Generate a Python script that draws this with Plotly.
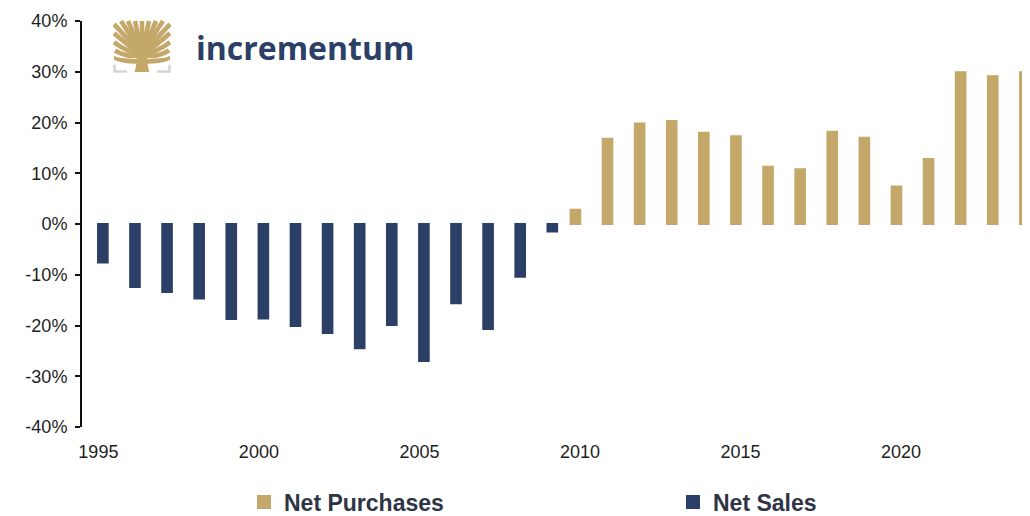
import base64
import plotly.graph_objects as go

# ---------------- data ----------------
years = list(range(1995, 2025))
net_purchases = [None] * 15 + [2.8, 16.8, 19.8, 20.3, 18.0, 17.3, 11.3, 10.8, 18.2, 17.0,
                              7.4, 12.8, 29.9, 29.1, 29.9]
net_sales = [-7.6, -12.4, -13.4, -14.7, -18.7, -18.6, -20.1, -21.5, -24.5, -19.9,
             -27.0, -15.6, -20.7, -10.4, -1.5] + [None] * 15
label_years = [1995, 2000, 2005, 2010, 2015, 2020]
y_ticks = [-40, -30, -20, -10, 0, 10, 20, 30, 40]
brand_text = "incrementum"

GOLD = "#C4A86A"
NAVY = "#2C3F66"
TXT = "#1e1e1e"

# page has an 8px body margin: figure is drawn at (8, 8)
PAGE_OFF = 8
FIG_W, FIG_H = 1030 - PAGE_OFF, 516 - PAGE_OFF
PL, PT, PB = 82, 21, 427          # plot-area edges in page pixels
PW, PH = FIG_W - (PL - PAGE_OFF), PB - PT

fig = go.Figure()
fig.add_trace(go.Bar(x=years, y=net_purchases, name="Net Purchases",
                     marker=dict(color=GOLD, line=dict(width=2, color=GOLD)),
                     width=0.30, offset=-0.29, legend="legend"))
fig.add_trace(go.Bar(x=years, y=net_sales, name="Net Sales",
                     marker=dict(color=NAVY, line=dict(width=2, color=NAVY)),
                     width=0.30, offset=-0.01, legend="legend2"))

xr = [1994.49, 2024.02]
boundary_ticks = [y - 0.5 for y in label_years if y > years[0]]

# ---------------- logo (simple svg) ----------------
branches = []
trunk_top = (29, 34)
ends = [(1, 4), (1, 13), (1, 22), (2, 30), (8, 1), (15, 1), (22, 1), (29, 1), (36, 1),
        (43, 1), (50, 1), (57, 4), (57, 13), (57, 22), (56, 30)]
for ex, ey in ends:
    cx = (ex + trunk_top[0]) / 2
    cy = trunk_top[1] * 0.25 + ey * 0.75 + 7
    branches.append(f'<path d="M{trunk_top[0]},{trunk_top[1]} Q{cx:.1f},{cy:.1f} {ex},{ey}" '
                    f'stroke="{GOLD}" stroke-width="4.6" fill="none" stroke-linecap="butt"/>')
svg = (
    '<svg xmlns="http://www.w3.org/2000/svg" width="58" height="52" viewBox="0 0 58 52">'
    '<defs><clipPath id="c"><rect x="0" y="0" width="58" height="52"/></clipPath></defs>'
    '<g clip-path="url(#c)">'
    f'<path d="M21.5,51 C24,44 24,38 23,30 L35,30 C34,38 34,44 36.5,51 Z" fill="{GOLD}"/>'
    f'<path d="M29,39 C20,37 8,39 1,35 L1,39 C8,43 20,43 29,43 Z" fill="{GOLD}"/>'
    f'<path d="M29,39 C38,37 50,39 57,35 L57,39 C50,43 38,43 29,43 Z" fill="{GOLD}"/>'
    + "".join(branches) +
    '</g>'
    '<path d="M1.5,44 V50.5 H14" stroke="#d5d5d8" stroke-width="2.6" fill="none"/>'
    '<path d="M56.5,44 V50.5 H44" stroke="#d5d5d8" stroke-width="2.6" fill="none"/>'
    '</svg>'
)
svg_uri = "data:image/svg+xml;base64," + base64.b64encode(svg.encode()).decode()

legend_common = dict(orientation="h", xanchor="left", yref="container",
                     y=(516 - 502) / FIG_H, yanchor="middle", itemwidth=30,
                     font=dict(size=23, color="#2e3445", weight="bold"),
                     bgcolor="rgba(0,0,0,0)")

def px_x(p):
    return (p - PL) / PW

def px_y(p):
    return (PB - p) / PH

fig.update_layout(
    width=FIG_W, height=FIG_H,
    margin=dict(l=PL - PAGE_OFF, r=0, t=PT - PAGE_OFF, b=FIG_H - (PB - PAGE_OFF),
                autoexpand=False),
    paper_bgcolor="white", plot_bgcolor="white",
    barmode="overlay",
    showlegend=True,
    font=dict(family="Liberation Sans, Arial, sans-serif", color=TXT, size=18),
    xaxis=dict(range=xr, tickmode="array", tickvals=label_years,
               ticktext=[str(v) for v in label_years],
               showline=False, ticks="", showgrid=False, zeroline=False,
               automargin=False,
               tickfont=dict(size=18, color=TXT), ticklabelstandoff=12),
    xaxis2=dict(range=xr, overlaying="x", anchor="free", position=0.5, side="bottom",
                showline=True, linecolor="#111", linewidth=2,
                tickmode="array", tickvals=boundary_ticks, showticklabels=False,
                ticks="outside", ticklen=6, tickwidth=2, tickcolor="#111",
                showgrid=False, zeroline=False, automargin=False),
    yaxis=dict(range=[-40, 40], tickmode="array", tickvals=y_ticks,
               ticktext=[f"{v}%" for v in y_ticks],
               showline=True, linecolor="#111", linewidth=2,
               ticks="outside", ticklen=5, tickwidth=2, tickcolor="#111",
               showgrid=False, zeroline=False, automargin=False,
               tickfont=dict(size=18, color=TXT), ticklabelstandoff=4),
    legend=dict(x=px_x(244), **legend_common),
    legend2=dict(x=px_x(673), **legend_common),
    images=[dict(source=svg_uri, xref="paper", yref="paper",
                 x=px_x(113), y=px_y(20),
                 sizex=58 / PW, sizey=53 / PH,
                 xanchor="left", yanchor="top", sizing="stretch", layer="above")],
    annotations=[dict(text=brand_text, xref="paper", yref="paper",
                      x=px_x(194), y=px_y(47),
                      xanchor="left", yanchor="middle", showarrow=False,
                      font=dict(family="Open Sans", size=32, color=NAVY, weight="bold"))],
)

fig.write_html("out.html")
